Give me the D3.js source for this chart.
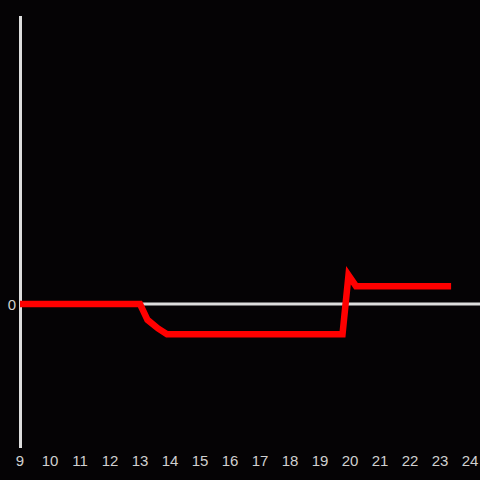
<!DOCTYPE html>
<html><head><meta charset="utf-8">
<script src="https://cdn.jsdelivr.net/npm/d3@7"></script>
<style>html,body{margin:0;padding:0;background:#050305;}</style>
</head><body>
<svg id="c" width="480" height="480"></svg>
<script>
const xTicks = [9,10,11,12,13,14,15,16,17,18,19,20,21,22,23,24];
const yTicks = [0];
const xs = [9, 13, 13.25, 13.6, 13.9, 19.75, 19.95, 20.2, 23.37];
const ys = [0, 0, -0.55, -0.85, -1.05, -1.05, 1.0, 0.62, 0.62];

const svg = d3.select("#c");
svg.append("rect").attr("width",480).attr("height",480).attr("fill","#050305");
const x = d3.scaleLinear().domain([9,24]).range([20,470]);
const y = d3.scaleLinear().domain([-5,10]).range([448,16]);

// zero line
svg.append("line").attr("x1",x(9)).attr("x2",480).attr("y1",y(0)).attr("y2",y(0))
  .attr("stroke","#dddddd").attr("stroke-width",3);
// y axis line
svg.append("line").attr("x1",x(9)+0.5).attr("x2",x(9)+0.5).attr("y1",y(10)).attr("y2",y(-5))
  .attr("stroke","#dddddd").attr("stroke-width",3);

svg.selectAll("text.xt").data(xTicks).enter().append("text")
  .attr("x",d=>x(d)).attr("y",466).attr("text-anchor","middle")
  .attr("font-family","Liberation Sans, Arial, sans-serif").attr("font-size",15)
  .attr("fill","#d0d0d0").text(d=>d);
svg.selectAll("text.yt").data(yTicks).enter().append("text")
  .attr("x",16).attr("y",d=>y(d)+5.5).attr("text-anchor","end")
  .attr("font-family","Liberation Sans, Arial, sans-serif").attr("font-size",15)
  .attr("fill","#d0d0d0").text(d=>d);

const pts = xs.map((v,i)=>[v, ys[i]]);
svg.append("path").datum(pts)
  .attr("d", d3.line().x(d=>x(d[0])).y(d=>y(d[1])))
  .attr("fill","none").attr("stroke","#ff0000").attr("stroke-width",6.5)
  .attr("stroke-linejoin","miter").attr("stroke-linecap","butt");
</script>
</body></html>
